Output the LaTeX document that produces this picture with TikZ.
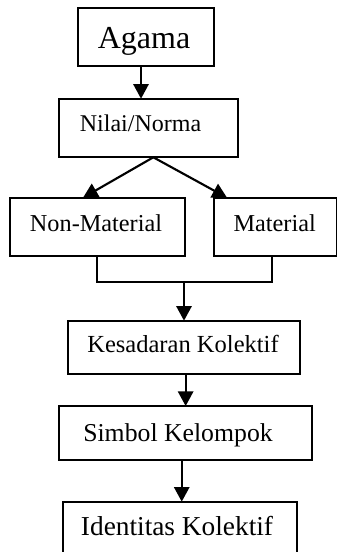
\documentclass[tikz,border=0pt]{standalone}
\usepackage{fontspec}
\setmainfont{Liberation Serif}
\usetikzlibrary{arrows.meta}
\begin{document}
\begin{tikzpicture}[x=0.75pt,y=-0.75pt,
  box/.style={draw,line width=1.45pt,inner sep=0pt,outer sep=0pt,rectangle},
  lbl/.style={anchor=base,inner sep=0pt},
  arr/.style={line width=1.6pt,-{Triangle[length=11pt,width=11.5pt]}},
  ln/.style={line width=1.6pt}]
\useasboundingbox (0,0) rectangle (337,552);
\clip (0,0) rectangle (337,552);
% boxes
\node[box,minimum width=102.45pt,minimum height=43.7pt] (agama) at (146,36.85) {};
\node[box,minimum width=134pt,minimum height=43.95pt] (nilai) at (148.35,128) {};
\node[box,minimum width=131pt,minimum height=43.7pt] (nonmat) at (97.35,226.85) {};
\node[box,minimum width=92.1pt,minimum height=43.7pt] (mat) at (275.1,226.85) {};
\node[box,minimum width=173.8pt,minimum height=40pt] (kes) at (183.85,347.35) {};
\node[box,minimum width=189.5pt,minimum height=40.5pt] (simbol) at (185.65,433) {};
\node[box,minimum width=175.05pt,minimum height=41pt] (ident) at (180,529) {};
% labels
\node[lbl,font=\fontsize{24}{28}\selectfont] (tagama) at (144,48.3) {Agama};
\node[lbl,font=\fontsize{18}{22}\selectfont] (tnilai) at (140.5,131.7) {Nilai/Norma};
\node[lbl,font=\fontsize{18.2}{22}\selectfont] (tnonmat) at (96,231.7) {Non-Material};
\node[lbl,font=\fontsize{18.2}{22}\selectfont] (tmat) at (274.7,231.7) {Material};
\node[lbl,font=\fontsize{18.4}{22}\selectfont] (tkes) at (183,352.5) {Kesadaran Kolektif};
\node[lbl,font=\fontsize{19.3}{23}\selectfont] (tsimbol) at (178,441.7) {Simbol Kelompok};
\node[lbl,font=\fontsize{20.5}{24}\selectfont] (tident) at (177,535) {Identitas Kolektif};
% connectors
\draw[arr] ([xshift=-3.75pt]agama.south) -- ([xshift=-3.75pt]agama.south |- nilai.north);
\draw[arr] ([xshift=3.75pt]nilai.south) -- ([xshift=54.75pt]nonmat.north west);
\draw[arr] ([xshift=3.75pt]nilai.south) -- ([xshift=10pt]mat.north west);
\coordinate (m) at (184,281.7);
\draw[ln] (nonmat.south) |- (m) -| ([xshift=-2.3pt]mat.south);
\draw[arr] (m) -- (m |- kes.north);
\draw[arr] (kes.south -| simbol.north) -- (simbol.north);
\draw[arr] ([xshift=1.3pt]ident.north |- simbol.south) -- ([xshift=1.3pt]ident.north);
\end{tikzpicture}
\end{document}
